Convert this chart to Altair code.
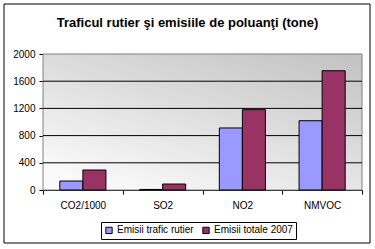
import altair as alt
import pandas as pd

categories = ["CO2/1000", "SO2", "NO2", "NMVOC"]
series_names = ["Emisii trafic rutier", "Emisii totale 2007"]
trafic_rutier = [132, 8, 912, 1019]
totale_2007 = [294, 88, 1181, 1754]
y_ticks = [0, 400, 800, 1200, 1600, 2000]
grid_values = [400, 800, 1200, 1600]

rows = []
for c, a, b in zip(categories, trafic_rutier, totale_2007):
    rows.append({"cat": c, "serie": series_names[0], "val": a})
    rows.append({"cat": c, "serie": series_names[1], "val": b})
df = pd.DataFrame(rows)

W, H = 319, 136
FONT = "Liberation Sans"

bg = alt.Chart(pd.DataFrame({"a": [0]})).mark_rect(
    color=alt.LinearGradient(
        gradient="linear",
        x1=0.2, y1=1, x2=0.9, y2=0,
        stops=[alt.GradientStop(color="#fafafa", offset=0),
               alt.GradientStop(color="#c4c4c4", offset=1)],
    ),
    stroke="#808080", strokeWidth=1,
).encode(x=alt.value(0), x2=alt.value(W), y=alt.value(0), y2=alt.value(H))

yscale = alt.Scale(domain=[0, 2000], nice=False)
yaxis = alt.Axis(title=None, values=y_ticks, format="d",
                 domainColor="black", tickColor="black", tickSize=4,
                 labelPadding=4, labelFont=FONT, labelFontSize=10,
                 labelColor="black", grid=False)

grid = alt.Chart(pd.DataFrame({"g": grid_values})).mark_rule(
    color="black", strokeWidth=1
).encode(y=alt.Y("g:Q", scale=yscale, axis=yaxis))

frame = alt.Chart(pd.DataFrame({"a": [0]})).mark_rect(
    fill=None, stroke="black", strokeWidth=1, clip=False
).encode(x=alt.value(-39), x2=alt.value(327), y=alt.value(-50), y2=alt.value(189))

bars = alt.Chart(df).mark_bar(stroke="black", strokeWidth=1).encode(
    x=alt.X("cat:N", sort=categories,
            scale=alt.Scale(paddingInner=0, paddingOuter=0),
            axis=alt.Axis(title=None, labelAngle=0, tickBand="extent",
                          domainColor="black", tickColor="black", tickSize=4,
                          labelPadding=6, labelFont=FONT, labelFontSize=10,
                          labelColor="black", grid=False)),
    xOffset=alt.XOffset("serie:N", sort=series_names,
                        scale=alt.Scale(paddingInner=0, paddingOuter=0.73)),
    y=alt.Y("val:Q", scale=yscale, axis=yaxis),
    color=alt.Color("serie:N", sort=series_names,
                    scale=alt.Scale(domain=series_names, range=["#9999ff", "#993366"]),
                    legend=alt.Legend(title=None, orient="none", legendX=58, legendY=168,
                                      direction="horizontal", symbolType="square",
                                      symbolSize=40, symbolStrokeColor="black",
                                      symbolStrokeWidth=1, symbolOpacity=1,
                                      labelFont=FONT, labelFontSize=10, labelColor="black",
                                      strokeColor="black", padding=3, columnPadding=6,
                                      symbolOffset=0, labelOffset=3)),
)

chart = alt.layer(bg, grid, bars, frame).properties(
    width=W, height=H,
    title=alt.TitleParams("Traficul rutier şi emisiile de poluanţi (tone)",
                          font=FONT, fontSize=13, fontWeight="bold", color="black",
                          anchor="middle", dx=-15, offset=0, dy=26),
    padding={"left": 43, "top": 54, "right": 13, "bottom": 59},
    autosize=alt.AutoSizeParams(type="none"),
    background="white",
).configure_view(stroke=None)

chart.save("out.html", embed_options={"renderer": "svg", "actions": False})
